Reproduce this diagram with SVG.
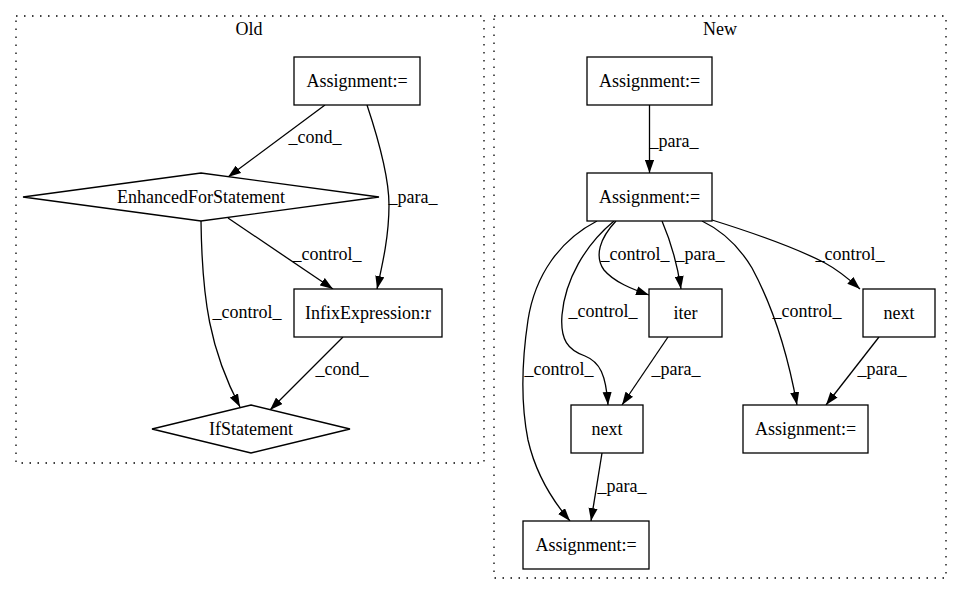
<svg xmlns="http://www.w3.org/2000/svg" width="961" height="596" viewBox="0 0 961 596" font-family="'Liberation Serif', 'DejaVu Serif', 'Times New Roman', serif">
<style>
text{font-family:'Liberation Serif','DejaVu Serif','Times New Roman',serif;font-size:18px;fill:#000;text-anchor:middle}
.cl{fill:none;stroke:#000;stroke-width:1.3;stroke-dasharray:1.5,6.5}
.n{fill:#fff;stroke:#000;stroke-width:1.3}
.e{fill:none;stroke:#000;stroke-width:1.3;marker-end:url(#ah)}
</style>
<defs>
<marker id="ah" viewBox="0 0 10 7" refX="10" refY="3.5" markerWidth="13" markerHeight="9.3" markerUnits="userSpaceOnUse" orient="auto">
<path d="M0,0 L10,3.5 L0,7 Z" fill="#000"/>
</marker>
</defs>
<rect width="961" height="596" fill="#fff"/>
<g id="cluster_old">
<rect class="cl" x="16" y="16" width="468" height="447"/>
<text x="249" y="35">Old</text>
</g>
<g id="cluster_new">
<rect class="cl" x="494" y="16" width="452" height="562"/>
<text x="720" y="35">New</text>
</g>
<g id="connectors">
<path class="e" d="M325,105 L228,177"/>
<path class="e" d="M367,105 C378,138 389,175 389,205 C389,235 383,262 377,289"/>
<path class="e" d="M228,218 L333,289"/>
<path class="e" d="M201,221 C202,300 210,350 240,407"/>
<path class="e" d="M343,337 L270,410"/>
<path class="e" d="M649.5,105 L649.5,173"/>
<path class="e" d="M616,221 C600,238 594,256 604,270 C614,282 632,289 649,295"/>
<path class="e" d="M662,221 C668,235 676,255 681,289"/>
<path class="e" d="M614,221 C585,245 565,280 562,315 C560,340 568,350 585,356 C600,362 606,375 608,405"/>
<path class="e" d="M597,221 C560,240 535,275 528,320 C522,360 520,400 528,440 C536,475 552,500 570,521"/>
<path class="e" d="M668,337 L622,405"/>
<path class="e" d="M602,453 L591,521"/>
<path class="e" d="M702,221 C725,232 740,248 752,268 C772,305 787,350 797,405"/>
<path class="e" d="M712,220 C760,235 800,250 825,263 C840,271 850,280 860,289"/>
<path class="e" d="M879,337 L826,405"/>
<text x="315" y="143">_cond_</text>
<text x="413" y="203">_para_</text>
<text x="327" y="260">_control_</text>
<text x="247" y="318">_control_</text>
<text x="342" y="375">_cond_</text>
<text x="674" y="147">_para_</text>
<text x="635" y="260">_control_</text>
<text x="700" y="260">_para_</text>
<text x="603" y="317">_control_</text>
<text x="559" y="375">_control_</text>
<text x="676" y="375">_para_</text>
<text x="622" y="492">_para_</text>
<text x="807" y="317">_control_</text>
<text x="850" y="260">_control_</text>
<text x="882" y="375">_para_</text>
</g>
<g id="old_assign">
<rect class="n" x="294" y="57" width="126" height="48"/>
<text x="357" y="87">Assignment:=</text>
</g>
<g id="old_enhancedfor">
<polygon class="n" points="201,173 379,197 201,221 23,197"/>
<text x="201" y="203">EnhancedForStatement</text>
</g>
<g id="old_infix">
<rect class="n" x="294" y="289" width="148" height="48"/>
<text x="368" y="319">InfixExpression:r</text>
</g>
<g id="old_if">
<polygon class="n" points="251,405 350,429 251,453 152,429"/>
<text x="251" y="435">IfStatement</text>
</g>
<g id="new_assign1">
<rect class="n" x="587" y="57" width="125" height="48"/>
<text x="649.5" y="87">Assignment:=</text>
</g>
<g id="new_assign2">
<rect class="n" x="587" y="173" width="125" height="48"/>
<text x="649.5" y="203">Assignment:=</text>
</g>
<g id="new_iter">
<rect class="n" x="649" y="289" width="73" height="48"/>
<text x="685.5" y="319">iter</text>
</g>
<g id="new_next_right">
<rect class="n" x="863" y="289" width="72" height="48"/>
<text x="899" y="319">next</text>
</g>
<g id="new_next_left">
<rect class="n" x="571" y="405" width="72" height="48"/>
<text x="607" y="435">next</text>
</g>
<g id="new_assign3">
<rect class="n" x="743" y="405" width="125" height="48"/>
<text x="805.5" y="435">Assignment:=</text>
</g>
<g id="new_assign4">
<rect class="n" x="523" y="521" width="126" height="48"/>
<text x="586" y="551">Assignment:=</text>
</g>
</svg>
